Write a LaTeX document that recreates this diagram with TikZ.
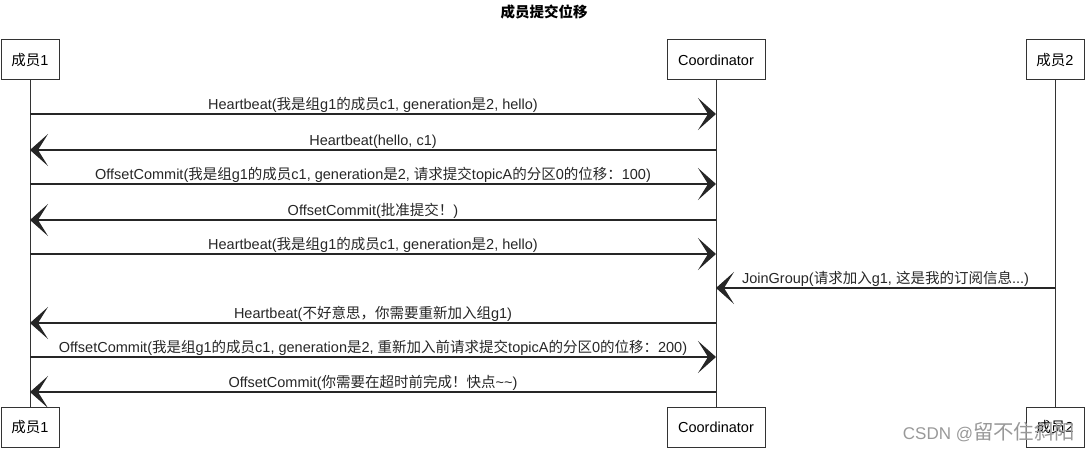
\documentclass[tikz,border=0pt]{standalone}
\usepackage{fontspec}
\setmainfont{Liberation Sans}
\newfontfamily\cjkface{Noto Sans CJK SC}
\newfontfamily\cjkbig[Scale=1.2]{Noto Sans CJK SC}
\usetikzlibrary{positioning,arrows.meta,calc}
% switch to the CJK face for ideographs and full-width punctuation
\newcommand\cjksw{\cjkface}
\XeTeXinterchartokenstate=1
\newXeTeXintercharclass\cjkcls
\newcount\cjkn
\cjkn="4E00 \loop\XeTeXcharclass\cjkn=\cjkcls\advance\cjkn by 1 \ifnum\cjkn<"A000 \repeat
\cjkn="3000 \loop\XeTeXcharclass\cjkn=\cjkcls\advance\cjkn by 1 \ifnum\cjkn<"3040 \repeat
\cjkn="FF00 \loop\XeTeXcharclass\cjkn=\cjkcls\advance\cjkn by 1 \ifnum\cjkn<"FFF0 \repeat
\XeTeXinterchartoks 0 \cjkcls = {\cjksw}
\XeTeXinterchartoks 4095 \cjkcls = {\cjksw}
\XeTeXinterchartoks \cjkcls 0 = {\rmfamily}
\XeTeXinterchartoks \cjkcls 4095 = {\rmfamily}

\begin{document}
\begin{tikzpicture}[x=1pt,y=-1pt,>={Stealth[length=18pt,width=32pt,inset=10pt]},
  every node/.style={font=\fontsize{14.5}{16}\selectfont},
  actor/.style={draw=black!80,line width=1pt,minimum width=58pt,minimum height=40pt,inner sep=2pt,fill=white,
    font=\fontsize{14.5}{16}\selectfont},
  life/.style={black!80,line width=0.8pt},
  msg/.style={->,black!85,line width=1.2pt},
  lbl/.style={midway,above,inner sep=1pt}]
\useasboundingbox (0,0) rectangle (1088,452);
\node[font=\bfseries\fontsize{14.5}{16}\selectfont] (title) at (544,12) {成员提交位移};
% actors, top and bottom
\node[actor] (p1top) at (30,60) {成员1};
\node[actor,minimum width=98pt] (cotop) at (716,60) {Coordinator};
\node[actor] (p2top) at (1055,60) {成员2};
\node[actor] (p1bot) at (30,427) {成员1};
\node[actor,minimum width=98pt] (cobot) at (716,427) {Coordinator};
\node[actor] (p2bot) at (1055,427) {成员2};
\draw[life] (p1top) -- (p1bot);
\draw[life] (cotop) -- (cobot);
\draw[life] (p2top) -- (p2bot);
% messages
\draw[msg] (p1top.south |- 0,114) -- (cotop.south |- 0,114) node[lbl] {Heartbeat(我是组g1的成员c1, generation是2, hello)};
\draw[msg] (cotop.south |- 0,150) -- (p1top.south |- 0,150) node[lbl] {Heartbeat(hello, c1)};
\draw[msg] (p1top.south |- 0,184) -- (cotop.south |- 0,184) node[lbl] {OffsetCommit(我是组g1的成员c1, generation是2, 请求提交topicA的分区0的位移：100)};
\draw[msg] (cotop.south |- 0,220) -- (p1top.south |- 0,220) node[lbl] {OffsetCommit(批准提交！)};
\draw[msg] (p1top.south |- 0,254) -- (cotop.south |- 0,254) node[lbl] {Heartbeat(我是组g1的成员c1, generation是2, hello)};
\draw[msg] (p2top.south |- 0,288) -- (cotop.south |- 0,288) node[lbl] {JoinGroup(请求加入g1, 这是我的订阅信息...)};
\draw[msg] (cotop.south |- 0,323) -- (p1top.south |- 0,323) node[lbl] {Heartbeat(不好意思，你需要重新加入组g1)};
\draw[msg] (p1top.south |- 0,357) -- (cotop.south |- 0,357) node[lbl] {OffsetCommit(我是组g1的成员c1, generation是2, 重新加入前请求提交topicA的分区0的位移：200)};
\draw[msg] (cotop.south |- 0,392) -- (p1top.south |- 0,392) node[lbl] {OffsetCommit(你需要在超时前完成！快点\textasciitilde\textasciitilde)};
\node[text=black!40,font=\fontsize{17}{19}\selectfont\let\cjksw\cjkbig] (wm) at (989,432) {CSDN @留不住斜阳};
\end{tikzpicture}
\end{document}
